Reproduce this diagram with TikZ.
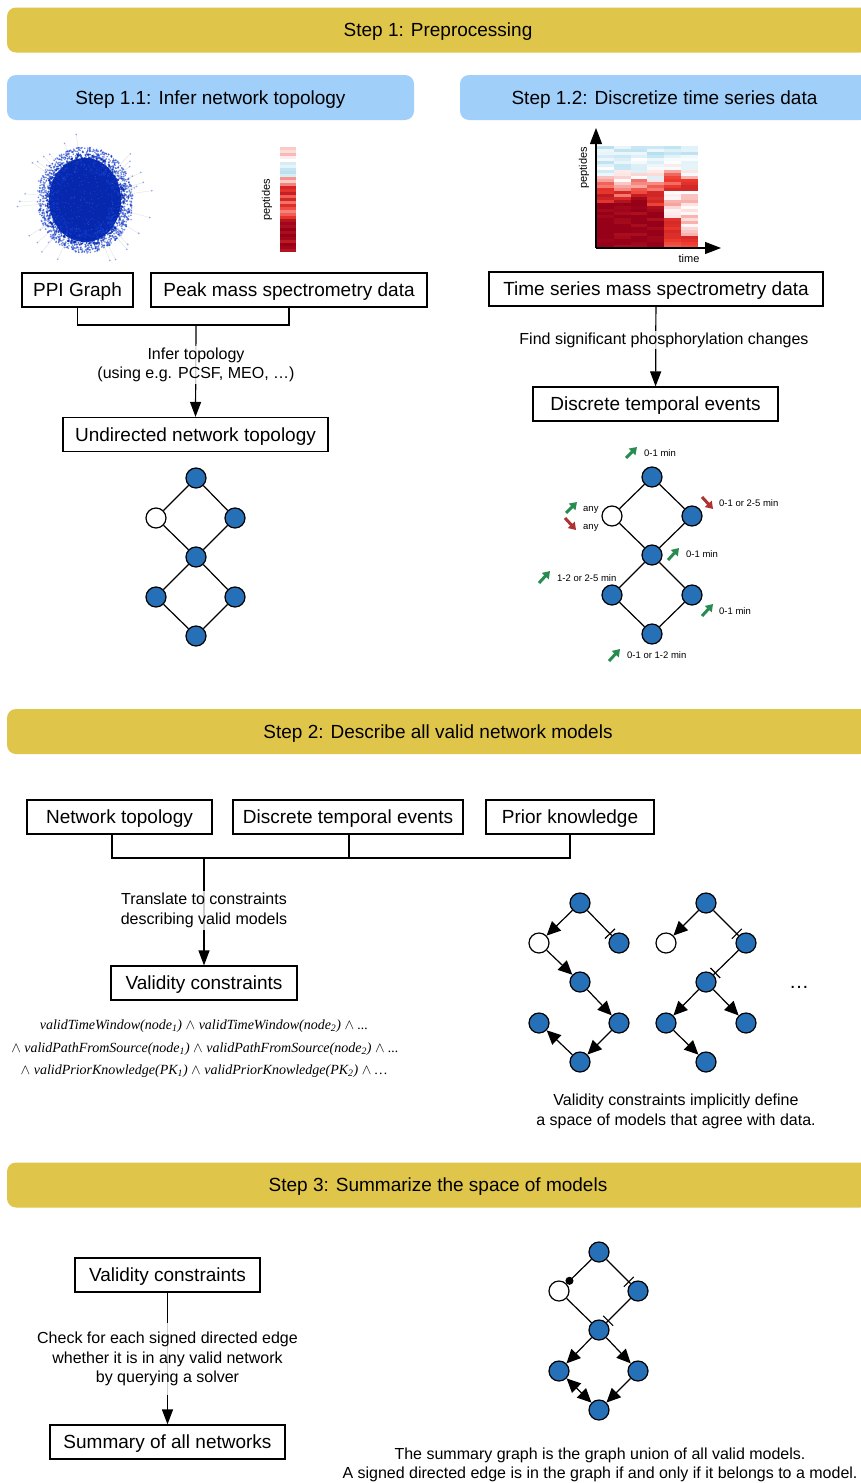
\documentclass[tikz,border=0pt]{standalone}
\usepackage{fontspec}
\setmainfont{Liberation Sans}
\newfontfamily\formulafont{Liberation Serif}
\usetikzlibrary{arrows.meta,calc}

\definecolor{bannergold}{RGB}{223,198,74}
\definecolor{bannerblue}{RGB}{160,207,250}
\definecolor{nodeblue}{RGB}{38,112,183}
\definecolor{upgreen}{RGB}{40,140,80}
\definecolor{downred}{RGB}{175,50,50}
\definecolor{hmblue}{RGB}{120,195,225}
\definecolor{hmred}{RGB}{238,58,45}
\definecolor{hmdark}{RGB}{150,0,25}
\definecolor{ppiblue}{RGB}{5,40,175}
\definecolor{ppimid}{RGB}{20,60,205}
\definecolor{ppidot}{RGB}{45,85,230}

% heat map colour: blue (negative) -> white -> red -> dark red
\newcommand\heatset[1]{%
  \pgfmathsetmacro\hv{max(-1,min(1,#1))}%
  \ifdim\hv pt<0pt
    \pgfmathtruncatemacro\hp{-\hv*100}%
    \colorlet{hc}{hmblue!\hp!white}%
  \else\ifdim\hv pt<0.55pt
    \pgfmathtruncatemacro\hp{\hv/0.55*100}%
    \colorlet{hc}{hmred!\hp!white}%
  \else
    \pgfmathtruncatemacro\hp{min(100,(\hv-0.55)/0.45*100)}%
    \colorlet{hc}{hmdark!\hp!hmred}%
  \fi\fi}

% inhibiting edge: line ending at the target with a cross bar just outside it
\newcommand\inhedge[2]{%
  \draw[edge] (#1) -- (#2);
  \coordinate (barmid) at ($(#2)!13pt!(#1)$);
  \draw[edge] ($(barmid)!7pt!90:(#1)$) -- ($(barmid)!7pt!-90:(#1)$);}

\begin{document}
\begin{tikzpicture}[x=1pt,y=-1pt,
  banner/.style={rounded corners=9pt, minimum height=45pt, inner sep=0pt,
    font=\fontsize{19}{22}\selectfont, text height=17.5pt, text depth=4pt},
  gold/.style={banner, fill=bannergold},
  sky/.style={banner, fill=bannerblue},
  box/.style={draw, line width=1.2pt, inner xsep=0pt, inner ysep=0pt, minimum height=34pt,
    font=\fontsize{19}{22}\selectfont, text height=17.5pt, text depth=4pt, fill=white},
  lbl/.style={font=\fontsize{16}{19.5}\selectfont, align=center, fill=white,
    fill opacity=0.8, text opacity=1, inner sep=2pt},
  caption/.style={font=\fontsize{16}{19.5}\selectfont, align=center, inner sep=0pt},
  small/.style={font=\fontsize{9.5}{11}\selectfont, anchor=west, inner sep=0pt,
    text height=7pt, text depth=0.2pt},
  axlbl/.style={font=\fontsize{11}{13}\selectfont, inner sep=0pt},
  formula/.style={font=\formulafont\itshape\fontsize{14}{17}\selectfont, inner sep=0pt},
  gn/.style={circle, draw, line width=1.2pt, fill=nodeblue, minimum size=20pt, inner sep=0pt},
  gw/.style={gn, fill=white},
  edge/.style={line width=1.2pt},
  act/.style={edge, -{Triangle[length=14pt,width=13pt]}},
  flow/.style={line width=1.2pt, -{Triangle[length=15pt,width=11pt]}},
  upmark/.style={draw=upgreen, line width=3pt, -{Triangle[length=7pt,width=9pt]}, upgreen},
  downmark/.style={draw=downred, line width=3pt, -{Triangle[length=7pt,width=9pt]}, downred}]

\clip (0,0) rectangle (861,1483);
\fill[white] (0,0) rectangle (861,1483);

% ---------- Step 1 ----------
\node[gold, minimum width=862pt] (s1) at (438,30) {Step 1: Preprocessing};
\node[sky, minimum width=407pt] (s11) at (210.5,97.5) {Step 1.1: Infer network topology};
\node[sky, minimum width=409pt] (s12) at (664.5,97.5) {Step 1.2: Discretize time series data};

% PPI hairball
\pgfmathsetseed{12}
\foreach \i in {1,...,35}{
  \pgfmathsetmacro\ang{360*rnd}
  \pgfmathsetmacro\rr{50+18*rnd}
  \pgfmathsetmacro\rd{\rr-30}
  \draw[black!15, line width=0.25pt] (85,200) ++(\ang:30pt) -- ++(\ang:\rd pt);
  \fill[ppidot, opacity=0.5] (85,200) ++(\ang:\rr pt) circle (0.9pt);
}
\fill[ppiblue] (85,200) ellipse (36pt and 42pt);
\foreach \i in {1,...,1800}{
  \pgfmathsetmacro\ang{360*rnd}
  \pgfmathsetmacro\rr{0.55+0.45*pow(rnd,0.8)}
  \pgfmathsetmacro\rx{48*\rr}
  \pgfmathsetmacro\ry{53*\rr}
  \fill[ppimid, opacity=0.6] (85,200) ++(\ang:\rx pt and \ry pt) circle (0.9pt);
}
\foreach \i in {1,...,500}{
  \pgfmathsetmacro\ang{360*rnd}
  \pgfmathsetmacro\rr{0.7+0.3*rnd}
  \pgfmathsetmacro\rx{40*\rr}
  \pgfmathsetmacro\ry{46*\rr}
  \fill[ppiblue, opacity=0.8] (85,200) ++(\ang:\rx pt and \ry pt) circle (1.1pt);
}
\foreach \i in {1,...,200}{
  \pgfmathsetmacro\ang{360*rnd}
  \pgfmathsetmacro\rr{pow(rnd,0.6)}
  \pgfmathsetmacro\rx{36*\rr}
  \pgfmathsetmacro\ry{42*\rr}
  \fill[black!40, opacity=0.3] (85,200) ++(\ang:\rx pt and \ry pt) circle (0.5pt);
}

% peak intensity column
\foreach \v [count=\i from 0] in {0.15,0.1,0.2,0.05,0.0,-0.3,-0.2,-0.45,-0.5,-0.3,0.3,0.15,0.35,0.7,0.6,0.75,0.45,0.7,0.4,0.65,0.5,0.35,0.45,0.6,0.85,0.95,0.9,1.0,0.9,1.0,0.95,0.8,1.0,0.95,0.85}{
  \heatset{\v}
  \fill[hc] (280,147+\i*3) rectangle ++(16,3.05);
}
\node[axlbl, rotate=90] (pep1) at (267,200) {peptides};

% time series heat map
\foreach \c/\a/\b/\fa/\fb/\fv/\ev in {0/.33/.55/2/2/0/1.05, 1/.4/.6/2/2/0/1.0, 2/.33/.55/2/2/0/1.0, 3/.35/.62/2/2/0/1.0, 4/.24/.3/.45/.72/.12/.55, 5/.3/.36/.45/.88/.1/.6}{
  \foreach \r in {0,...,33}{
    \pgfmathsetmacro\t{(\r+0.5)/34}
    \pgfmathsetmacro\base{\t<\a ? -0.45+0.5*\t/\a : (\t<\b ? 0.35+0.5*(\t-\a)/(\b-\a) : ((\t>=\fa && \t<\fb) ? \fv : \ev))}
    \pgfmathsetmacro\amp{\t<\b ? 0.28 : 0.14}
    \heatset{\base+\amp*rand}
    \fill[hc] (597+\c*16.83,146+\r*3) rectangle ++(16.9,3.05);
  }
}
\coordinate (origin) at (596,248);
\coordinate (ytip) at (596,128);
\coordinate (xtip) at (721,248);
\draw[line width=1.2pt, -{Triangle[length=16pt,width=12pt]}] (origin) -- (ytip);
\draw[line width=1.2pt, -{Triangle[length=16pt,width=12pt]}] (origin) -- (xtip);
\node[axlbl, rotate=90] (pep2) at (584,168) {peptides};
\node[axlbl] (time) at (689,259) {time};

% step 1.1 flow
\node[box, minimum width=111pt] (ppi) at (77.5,290) {PPI Graph};
\node[box, minimum width=276pt] (peak) at (289,290) {Peak mass spectrometry data};
\node[box, minimum width=265pt] (und) at (195.5,434.5) {Undirected network topology};
\coordinate (j1) at (196,325);
\draw[line width=1.2pt] (ppi.south) |- (j1);
\draw[line width=1.2pt] (peak.south) |- (j1);
\draw[flow] (j1) -- (und.north);
\node[lbl] (inferlbl) at (196,365) {Infer topology\\(using e.g. PCSF, MEO, …)};

% step 1.2 flow
\node[box, minimum width=334pt] (ts) at (656,289) {Time series mass spectrometry data};
\node[box, minimum width=245pt] (dte) at (655.5,404) {Discrete temporal events};
\draw[flow] (ts) -- (dte);
\node[lbl] (findlbl) at (664,340) {Find significant phosphorylation changes};

% undirected topology
\node[gn] (t1) at (196,478) {};
\node[gw] (w1) at (156,518) {};
\node[gn] (r1) at (235,518) {};
\node[gn] (m1) at (196,557) {};
\node[gn] (l1) at (156,597) {};
\node[gn] (q1) at (235,597) {};
\node[gn] (b1) at (196,636) {};
\foreach \u/\v in {t1/w1,t1/r1,w1/m1,r1/m1,m1/l1,m1/q1,l1/b1,q1/b1}
  \draw[edge] (\u) -- (\v);

% topology with temporal events
\node[gn] (t2) at (652,477) {};
\node[gw] (w2) at (612,516) {};
\node[gn] (r2) at (692,516) {};
\node[gn] (m2) at (652,555) {};
\node[gn] (l2) at (612,595) {};
\node[gn] (q2) at (692,595) {};
\node[gn] (b2) at (652,634) {};
\foreach \u/\v in {t2/w2,t2/r2,w2/m2,r2/m2,m2/l2,m2/q2,l2/b2,q2/b2}
  \draw[edge] (\u) -- (\v);

\draw[upmark] (626,458) -- (637,447);
\node[small] (e1) at (644,453) {0-1 min};
\draw[downmark] (702,497) -- (713,509);
\node[small] (e2) at (719,503) {0-1 or 2-5 min};
\draw[upmark] (566,513) -- (577,502);
\node[small] (e3) at (583,508) {any};
\draw[downmark] (565,518) -- (576,530);
\node[small] (e4) at (583,526) {any};
\draw[upmark] (668,560) -- (679,548);
\node[small] (e5) at (686,554) {0-1 min};
\draw[upmark] (539,583) -- (550,571);
\node[small] (e6) at (557,578) {1-2 or 2-5 min};
\draw[upmark] (702,616) -- (713,604);
\node[small] (e7) at (719,611) {0-1 min};
\draw[upmark] (609,661) -- (620,649);
\node[small] (e8) at (627,655) {0-1 or 1-2 min};

% ---------- Step 2 ----------
\node[gold, minimum width=862pt] (s2) at (438,731.5) {Step 2: Describe all valid network models};

\node[box, minimum width=185pt] (nt) at (119.5,817) {Network topology};
\node[box, minimum width=230pt] (de) at (348,817) {Discrete temporal events};
\node[box, minimum width=168pt] (pk) at (570,817) {Prior knowledge};
\node[box, minimum width=186pt] (vc) at (204,983) {Validity constraints};
\coordinate (h1) at (112,858);
\coordinate (h2) at (349,858);
\coordinate (h3) at (570,858);
\coordinate (h0) at (204,858);
\draw[line width=1.2pt] (nt.south -| h1) -- (h1) -- (h3) -- (pk.south -| h3);
\draw[line width=1.2pt] (de.south -| h2) -- (h2);
\draw[flow] (h0) -- (vc.north);
\node[lbl] (translbl) at (204,910.5) {Translate to constraints\\describing valid models};

\node[formula] (f1) at (204,1026) {validTimeWindow(node\textsubscript{1}) $\wedge$ validTimeWindow(node\textsubscript{2}) $\wedge$ ...};
\node[formula] (f2) at (205,1049) {$\wedge$ validPathFromSource(node\textsubscript{1}) $\wedge$ validPathFromSource(node\textsubscript{2}) $\wedge$ ...};
\node[formula] (f3) at (204,1071) {$\wedge$ validPriorKnowledge(PK\textsubscript{1}) $\wedge$ validPriorKnowledge(PK\textsubscript{2}) $\wedge$ …};

% model A
\node[gn] (ta) at (580,903) {};
\node[gw] (wa) at (539,943) {};
\node[gn] (ra) at (619,943) {};
\node[gn] (ma) at (580,982) {};
\node[gn] (la) at (539,1023) {};
\node[gn] (qa) at (619,1023) {};
\node[gn] (ba) at (580,1062) {};
\draw[act] (ta) -- (wa);
\inhedge{ta}{ra}
\draw[act] (wa) -- (ma);
\draw[act] (ma) -- (qa);
\draw[act] (qa) -- (ba);
\draw[act] (ba) -- (la);

% model B
\node[gn] (tb) at (706,903) {};
\node[gw] (wb) at (666,943) {};
\node[gn] (rb) at (746,943) {};
\node[gn] (mb) at (706,982) {};
\node[gn] (lb) at (666,1023) {};
\node[gn] (qb) at (746,1023) {};
\node[gn] (bb) at (706,1062) {};
\draw[act] (tb) -- (wb);
\inhedge{tb}{rb}
\inhedge{rb}{mb}
\draw[act] (mb) -- (lb);
\draw[act] (mb) -- (qb);
\draw[act] (lb) -- (bb);

\node[font=\fontsize{20}{22}\selectfont, anchor=base, inner sep=0pt] (more) at (799,988) {…};
\node[caption] (modcap) at (676,1111.5) {Validity constraints implicitly define\\a space of models that agree with data.};

% ---------- Step 3 ----------
\node[gold, minimum width=862pt] (s3) at (438,1185) {Step 3: Summarize the space of models};

\node[box, minimum width=185pt] (vc2) at (167.5,1275) {Validity constraints};
\node[box, minimum width=235pt] (sum) at (167.5,1442) {Summary of all networks};
\draw[flow] (vc2) -- (sum);
\node[lbl, inner ysep=9pt] (checklbl) at (167.5,1359) {Check for each signed directed edge\\whether it is in any valid network\\by querying a solver};

% summary graph
\node[gn] (ts3) at (599,1252) {};
\node[gw] (ws3) at (559,1291) {};
\node[gn] (rs3) at (638,1291) {};
\node[gn] (ms3) at (599,1330) {};
\node[gn] (ls3) at (559,1371) {};
\node[gn] (qs3) at (638,1371) {};
\node[gn] (bs3) at (599,1410) {};
\draw[edge, -{Circle[length=8pt]}] (ts3) -- (ws3);
\inhedge{ts3}{rs3}
\draw[edge] (ws3) -- (ms3);
\inhedge{rs3}{ms3}
\draw[act] (ms3) -- (ls3);
\draw[act] (ms3) -- (qs3);
\draw[edge, {Triangle[length=14pt,width=13pt]}-{Triangle[length=14pt,width=13pt]}] (ls3) -- (bs3);
\draw[act] (qs3) -- (bs3);

\node[caption] (sumcap) at (600,1465) {The summary graph is the graph union of all valid models.\\A signed directed edge is in the graph if and only if it belongs to a model.};

\end{tikzpicture}
\end{document}
